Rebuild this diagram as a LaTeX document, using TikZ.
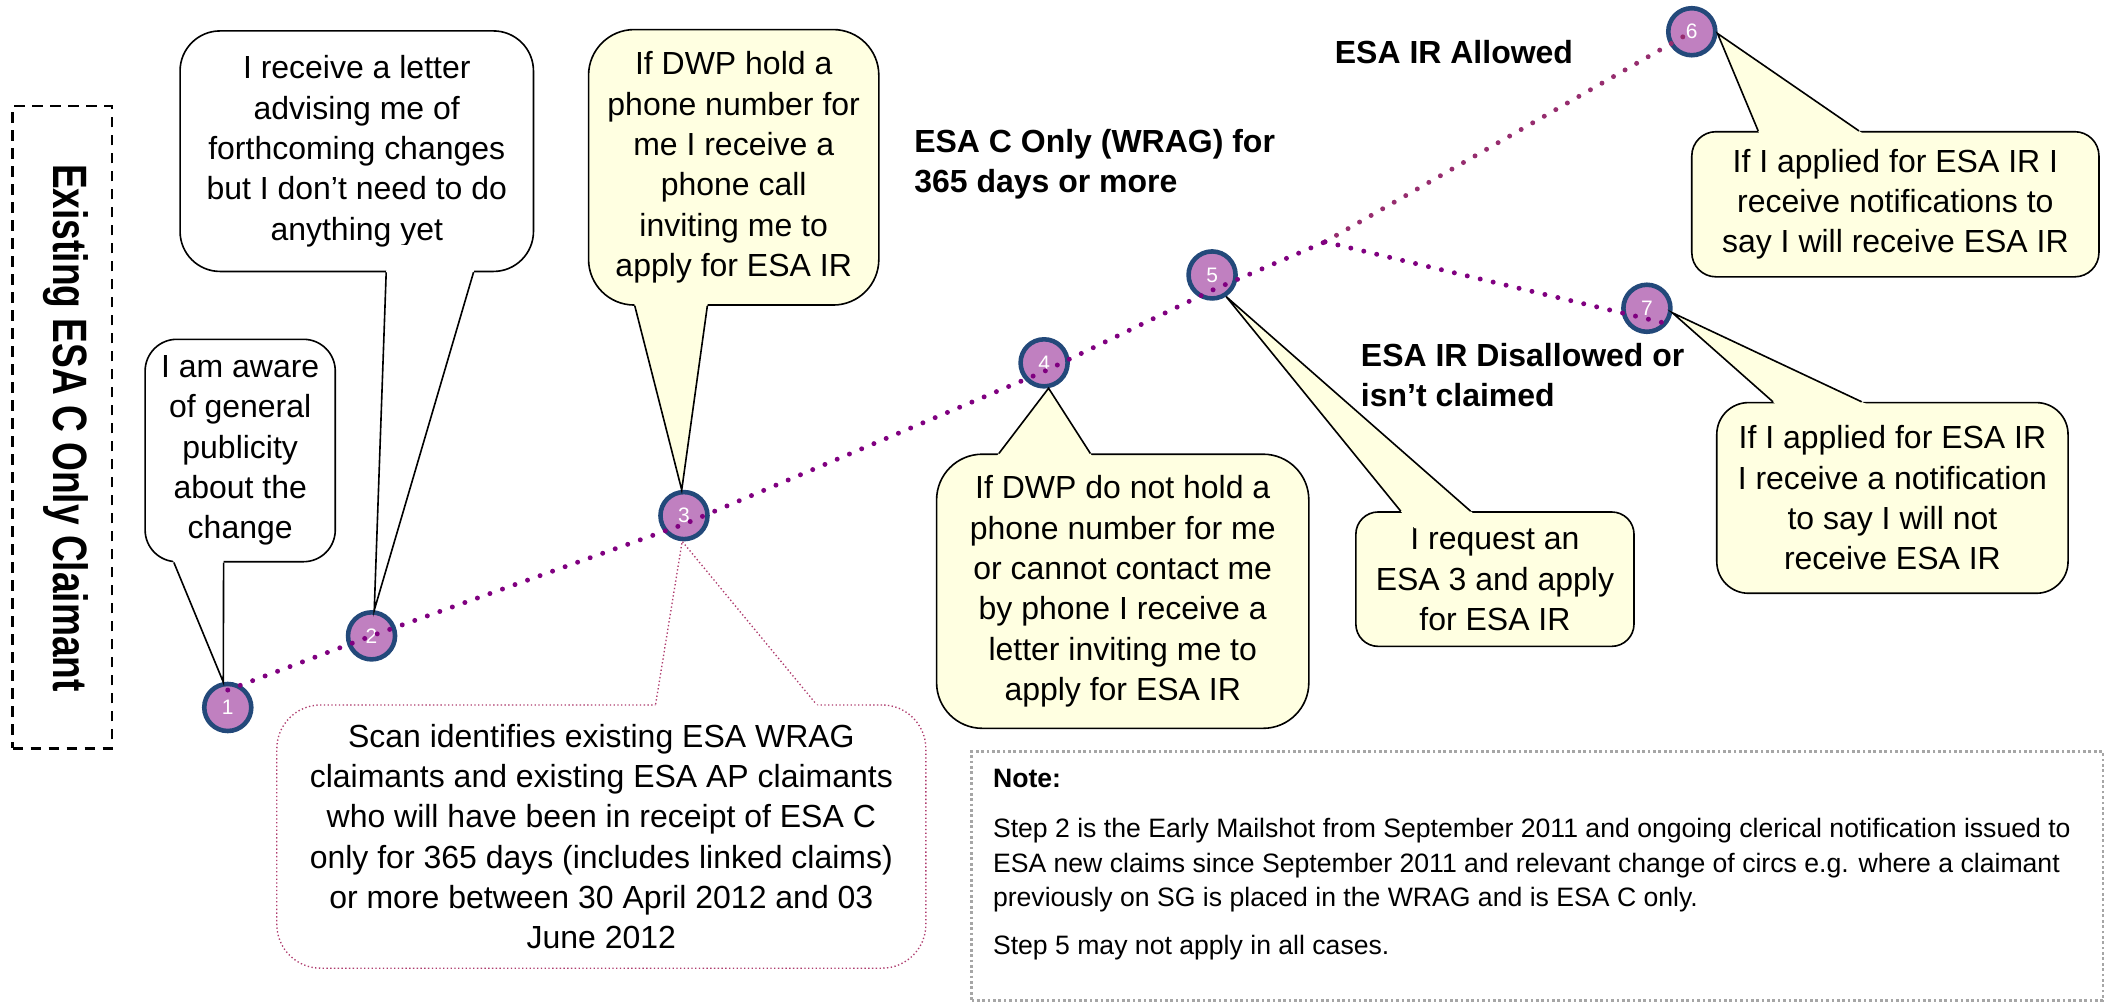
\documentclass[tikz,border=0pt]{standalone}
\usepackage{fontspec}
\setmainfont{Liberation Sans}
\usepackage{tikz}
\usetikzlibrary{positioning, calc}
\definecolor{ringblue}{RGB}{35,73,122}
\definecolor{stagefill}{RGB}{192,128,192}
\definecolor{trailpurple}{RGB}{128,0,128}
\definecolor{trailplum}{RGB}{150,45,110}
\definecolor{paleyellow}{RGB}{255,255,225}
\definecolor{scanline}{RGB}{175,60,110}

\begin{document}
\begin{tikzpicture}[x=0.5pt, y=-0.5pt,
    every node/.style={inner sep=0pt, font=\fontsize{11.9}{15}\selectfont},
    stage/.style={circle, draw=ringblue, fill=stagefill, line width=1.7pt, minimum size=17.5pt, text=white, font=\fontsize{7.8}{8}\selectfont},
    bubble/.style={draw, line width=0.6pt, align=center},
    tag/.style={anchor=west, align=left, font=\bfseries\fontsize{11.9}{15}\selectfont},
    trail/.style={draw=trailpurple, line width=1.85pt, line cap=round, dash pattern=on 0pt off 4.95pt},
    scandot/.style={draw=scanline, line width=0.5pt, dash pattern=on 0.5pt off 0.9pt}]

\useasboundingbox (0,0) rectangle (1568,745.7);

% Seitenbeschriftung
\node[draw, line width=0.8pt, dash pattern=on 4pt off 2.7pt, minimum width=36.85pt, minimum height=239pt] (side) at (46.2,318) {};
\node[rotate=-90, font=\bfseries\fontsize{13.8}{15}\selectfont] (claimant) at (49,318.5) {\scalebox{1}[1.3]{Existing ESA C Only Claimant}};

% Stufen
\node[stage] (c1) at (169.5,526.5) {1};
\node[stage] (c2) at (276.5,473.2) {2};
\node[stage] (c3) at (509,383.7) {3};
\node[stage] (c4) at (777,270) {4};
\node[stage] (c5) at (902,204.6) {5};
\node[stage] (c6) at (1259,23.6) {6};
\node[stage] (c7) at (1225.6,229.4) {7};

% Sprechblasen
\node[bubble, fill=white, minimum width=70.75pt, minimum height=82.75pt, rounded corners=11.8pt] (aware) at (178.75,335.25) {I am aware\\of general\\publicity\\about the\\change};
\node[bubble, fill=white, minimum width=131.5pt, minimum height=89.5pt, rounded corners=14.9pt] (letter) at (265.5,112.5) {I receive a letter\\advising me of\\forthcoming changes\\but I don’t need to do\\anything yet};
\node[bubble, fill=paleyellow, minimum width=108pt, minimum height=102.5pt, rounded corners=17pt] (call) at (546,124.5) {If DWP hold a\\phone number for\\me I receive a\\phone call\\inviting me to\\apply for ESA IR};
\node[bubble, fill=paleyellow, minimum width=138.5pt, minimum height=102pt, rounded corners=17pt] (post) at (835.5,440) {If DWP do not hold a\\phone number for me\\or cannot contact me\\by phone I receive a\\letter inviting me to\\apply for ESA IR};
\node[bubble, fill=paleyellow, minimum width=103.5pt, minimum height=50pt, rounded corners=8.3pt] (esa3) at (1112.5,431) {I request an\\ESA 3 and apply\\for ESA IR};
\node[bubble, fill=paleyellow, minimum width=151.5pt, minimum height=54pt, rounded corners=9pt] (allowed) at (1410.5,152) {If I applied for ESA IR I\\receive notifications to\\say I will receive ESA IR};
\node[bubble, fill=paleyellow, minimum width=130.7pt, minimum height=70.95pt, rounded corners=11.8pt] (refused) at (1408.3,370.55) {If I applied for ESA IR\\I receive a notification\\to say I will not\\receive ESA IR};
\node[bubble, scandot, fill=white, minimum width=241.5pt, minimum height=97.95pt, rounded corners=16.3pt] (scan) at (447.5,622.55) {Scan identifies existing ESA WRAG\\claimants and existing ESA AP claimants\\who will have been in receipt of ESA C\\only for 365 days (includes linked claims)\\or more between 30 April 2012 and 03\\June 2012};

% Zeiger
\foreach \bub/\cnr/\tp/\ba/\bb/\bcol in {aware/south west/c1.100/22/59/white,
    letter/south west/c2.84/154/219/white,
    call/south west/c3.95/35/89/paleyellow,
    post/north west/c4.-80/47/115/paleyellow,
    esa3/north west/c5.-57/34/86/paleyellow,
    allowed/north west/c6.-4/50/125/paleyellow,
    refused/north west/c7.-10/42.4/108.4/paleyellow}{
  \coordinate (pa) at ($(\bub.\cnr)+(\ba,0)$);
  \coordinate (pb) at ($(\bub.\cnr)+(\bb,0)$);
  \fill[\bcol] ($(\tp)!1.08!(pa)$) -- (\tp) -- ($(\tp)!1.08!(pb)$) -- cycle;
  \draw[line width=0.6pt] (pa) -- (\tp) -- (pb);
}
\coordinate (sa) at ($(scan.north west)+(282.4,0)$);
\coordinate (sb) at ($(scan.north west)+(402,0)$);
\fill[white] ($(c3.-94)!1.06!(sa)$) -- (c3.-94) -- ($(c3.-94)!1.06!(sb)$) -- cycle;
\draw[scandot] (sa) -- (c3.-94) -- (sb);

% Pfad
\coordinate (fork) at (986,180);
\draw[trail] ([yshift=6.5pt]c1.center) -- (c2.center) -- ([yshift=-3.2pt]c3.center) -- ([yshift=-3.2pt]c4.center) -- ([yshift=-5.7pt]c5.center) -- (fork);
\draw[trail, draw=trailplum] (fork) -- (c6.center);
\draw[trail] (fork) -- ([xshift=5.7pt, yshift=-5.3pt]c7.center);

% Beschriftungen
\node[tag] (wrag) at (680,122.2) {ESA C Only (WRAG) for\\365 days or more};
\node[tag] (irok) at (993,38.4) {ESA IR Allowed};
\node[tag] (irno) at (1012.4,279) {ESA IR Disallowed or\\isn’t claimed};

% Hinweis
\node[draw=gray!70, line width=1pt, dash pattern=on 1pt off 1pt, minimum width=421pt, minimum height=92.6pt] (note) at (1144,651.9) {};
\node[anchor=north west, align=left, font=\fontsize{9.9}{12.75}\selectfont] (notetext) at ([xshift=8.3pt, yshift=-7pt]note.north west) {\textbf{Note:}\\[5.85pt]
Step 2 is the Early Mailshot from September 2011 and ongoing clerical notification issued to\\
ESA new claims since September 2011 and relevant change of circs e.g. where a claimant\\
previously on SG is placed in the WRAG and is ESA C only.\\[5.25pt]
Step 5 may not apply in all cases.};

\end{tikzpicture}
\end{document}
